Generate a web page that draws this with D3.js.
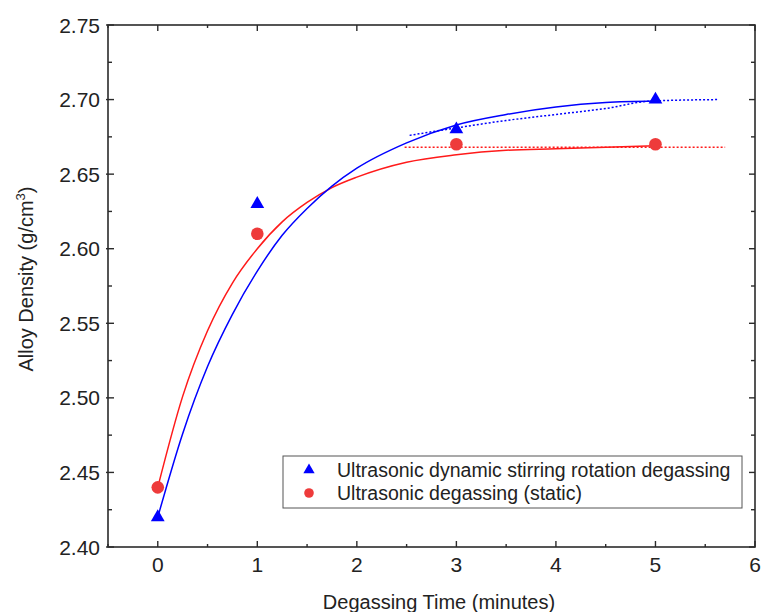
<!DOCTYPE html>
<html>
<head>
<meta charset="utf-8">
<script src="https://cdn.jsdelivr.net/npm/d3@7"></script>
<style>
  body { margin: 0; background: #fff; }
  svg { display: block; font-family: "Liberation Sans", Arial, sans-serif; }
</style>
</head>
<body>
<div id="chart"></div>
<script>
// measured points
const times = [0, 1, 3, 5];
const dynamicDensity = [2.42, 2.63, 2.68, 2.70];
const staticDensity = [2.44, 2.61, 2.67, 2.67];

// fitted curves
const fitX = [0, 0.25, 0.5, 0.75, 1, 1.25, 1.5, 1.75, 2, 2.5, 3, 3.5, 4, 4.5, 5];
const dynamicFit = [2.420, 2.476, 2.521, 2.556, 2.585, 2.609, 2.627, 2.642, 2.654, 2.671, 2.683, 2.690, 2.695, 2.698, 2.699];
const staticFit = [2.440, 2.501, 2.545, 2.577, 2.600, 2.618, 2.631, 2.641, 2.648, 2.658, 2.663, 2.666, 2.667, 2.668, 2.669];

// dotted asymptote guides
const dynamicDotX = [2.53, 3.0, 3.5, 4.0, 4.5, 4.95, 5.63];
const dynamicDotY = [2.676, 2.681, 2.686, 2.690, 2.694, 2.699, 2.700];
const staticDotX = [2.48, 5.70];
const staticDotY = [2.668, 2.668];

const xTicks = [0, 1, 2, 3, 4, 5, 6];
const yTicks = [2.40, 2.45, 2.50, 2.55, 2.60, 2.65, 2.70, 2.75];
const legendLabels = ['Ultrasonic dynamic stirring rotation degassing', 'Ultrasonic degassing (static)'];

const W = 761, H = 612;
const mLeft = 108, mRight = 755, mTop = 25, mBottom = 547;

const svg = d3.select('#chart').append('svg').attr('width', W).attr('height', H);

const x = d3.scaleLinear().domain([-0.5, 6]).range([mLeft, mRight]);
const y = d3.scaleLinear().domain([2.40, 2.75]).range([mBottom, mTop]);

const axisColor = '#2b2b2b';
const xMinor = d3.range(-0.5, 6.01, 0.5).filter(v => !xTicks.includes(v));
const yMinor = d3.range(2.425, 2.75, 0.05);

// Frame
svg.append('rect')
  .attr('x', mLeft).attr('y', mTop)
  .attr('width', mRight - mLeft).attr('height', mBottom - mTop)
  .attr('fill', 'none').attr('stroke', axisColor).attr('stroke-width', 1.6);

const ticks = svg.append('g').attr('stroke', axisColor).attr('stroke-width', 1.4);
// bottom + top ticks
xTicks.forEach(v => {
  ticks.append('line').attr('x1', x(v)).attr('x2', x(v)).attr('y1', mBottom).attr('y2', mBottom - 6);
  ticks.append('line').attr('x1', x(v)).attr('x2', x(v)).attr('y1', mTop).attr('y2', mTop + 6);
});
xMinor.forEach(v => {
  ticks.append('line').attr('x1', x(v)).attr('x2', x(v)).attr('y1', mBottom).attr('y2', mBottom - 3);
  ticks.append('line').attr('x1', x(v)).attr('x2', x(v)).attr('y1', mTop).attr('y2', mTop + 3);
});
// left + right ticks
yTicks.forEach(v => {
  ticks.append('line').attr('x1', mLeft - 2).attr('x2', mLeft + 6).attr('y1', y(v)).attr('y2', y(v));
  ticks.append('line').attr('x1', mRight).attr('x2', mRight - 6).attr('y1', y(v)).attr('y2', y(v));
});
yMinor.forEach(v => {
  ticks.append('line').attr('x1', mLeft).attr('x2', mLeft + 4).attr('y1', y(v)).attr('y2', y(v));
  ticks.append('line').attr('x1', mRight).attr('x2', mRight - 4).attr('y1', y(v)).attr('y2', y(v));
});

// Tick labels
svg.append('g').selectAll('text')
  .data(xTicks).join('text')
  .attr('x', d => x(d)).attr('y', 572)
  .attr('text-anchor', 'middle')
  .attr('font-size', 21).attr('fill', '#222')
  .text(d => d);

svg.append('g').selectAll('text')
  .data(yTicks).join('text')
  .attr('x', 100).attr('y', d => y(d) + 7.5)
  .attr('text-anchor', 'end')
  .attr('font-size', 21).attr('fill', '#222')
  .text(d => d.toFixed(2));

// Axis titles
svg.append('text')
  .attr('x', 439).attr('y', 609)
  .attr('text-anchor', 'middle')
  .attr('font-size', 20).attr('fill', '#222')
  .text('Degassing Time (minutes)');

const yTitle = svg.append('text')
  .attr('transform', 'translate(33,279) rotate(-90)')
  .attr('text-anchor', 'middle')
  .attr('font-size', 20).attr('fill', '#222');
yTitle.append('tspan').text('Alloy Density (g/cm');
yTitle.append('tspan').attr('font-size', 13).attr('dy', -8).text('3');
yTitle.append('tspan').attr('dy', 8).text(')');

const line = d3.line().x(d => x(d[0])).y(d => y(d[1]));
const smooth = d3.line().x(d => x(d[0])).y(d => y(d[1])).curve(d3.curveMonotoneX);

const blue = '#0000ff', red = '#ff1a1a', redMark = '#ee3b3b';

// dotted guides
svg.append('path')
  .attr('d', smooth(dynamicDotX.map((v, i) => [v, dynamicDotY[i]])))
  .attr('fill', 'none').attr('stroke', blue).attr('stroke-width', 1.5)
  .attr('stroke-dasharray', '2 2');
svg.append('path')
  .attr('d', line(staticDotX.map((v, i) => [v, staticDotY[i]])))
  .attr('fill', 'none').attr('stroke', red).attr('stroke-width', 1.5)
  .attr('stroke-dasharray', '2 2');

// fit curves
svg.append('path')
  .attr('d', smooth(fitX.map((v, i) => [v, staticFit[i]])))
  .attr('fill', 'none').attr('stroke', red).attr('stroke-width', 1.5);
svg.append('path')
  .attr('d', smooth(fitX.map((v, i) => [v, dynamicFit[i]])))
  .attr('fill', 'none').attr('stroke', blue).attr('stroke-width', 1.5);

// markers
const tri = d3.symbol().type(d3.symbolTriangle).size(82);

svg.append('g').selectAll('circle')
  .data(times).join('circle')
  .attr('cx', d => x(d))
  .attr('cy', (d, i) => y(staticDensity[i]))
  .attr('r', 6.3)
  .attr('fill', redMark);

svg.append('g').selectAll('path')
  .data(times).join('path')
  .attr('d', tri)
  .attr('transform', (d, i) => `translate(${x(d)},${y(dynamicDensity[i])})`)
  .attr('fill', blue);

// Legend
const lg = svg.append('g');
lg.append('rect')
  .attr('x', 283).attr('y', 456).attr('width', 459).attr('height', 52)
  .attr('fill', '#fff').attr('stroke', '#555').attr('stroke-width', 1);
const legendColors = [blue, redMark];
legendLabels.forEach((lab, i) => {
  const cy = 470 + i * 23;
  if (i === 0) {
    lg.append('path').attr('d', d3.symbol().type(d3.symbolTriangle).size(55))
      .attr('transform', `translate(309,${cy})`).attr('fill', legendColors[i]);
  } else {
    lg.append('circle').attr('cx', 309).attr('cy', cy).attr('r', 4.8).attr('fill', legendColors[i]);
  }
  lg.append('text')
    .attr('x', 337).attr('y', cy + 7)
    .attr('font-size', 19.5).attr('fill', '#222')
    .text(lab);
});
</script>
</body>
</html>
